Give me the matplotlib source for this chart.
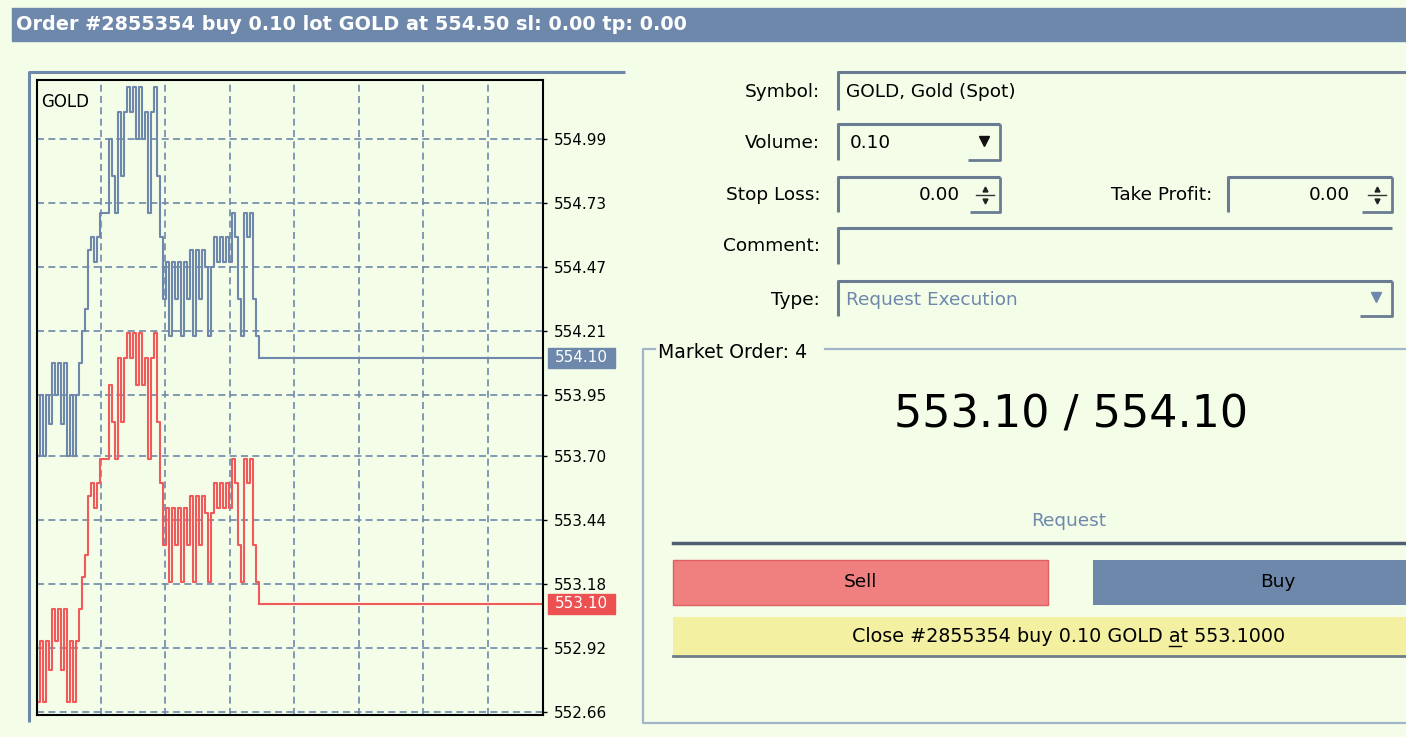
import matplotlib
matplotlib.use("Agg")
import matplotlib.pyplot as plt
from matplotlib.patches import Rectangle
from matplotlib.transforms import blended_transform_factory
import numpy as np

# GOLD ask price, one value per tick (bid = ask - spread)
ask = [553.70, 553.95, 553.70, 553.95, 553.83, 554.08, 553.95, 554.08, 553.83, 554.08,
       553.70, 553.95, 553.70, 553.95, 554.08, 554.21, 554.30, 554.54, 554.59, 554.49,
       554.59, 554.69, 554.69, 554.69, 554.99, 554.84, 554.69, 555.10, 554.84, 555.10,
       555.20, 555.10, 555.20, 554.99, 555.20, 554.99, 555.10, 554.69, 555.10, 555.20,
       554.84, 554.59, 554.34, 554.49, 554.19, 554.49, 554.34, 554.49, 554.19, 554.49,
       554.34, 554.54, 554.19, 554.54, 554.34, 554.54, 554.47, 554.19, 554.47, 554.59,
       554.49, 554.59, 554.49, 554.59, 554.49, 554.69, 554.59, 554.34, 554.19, 554.69,
       554.59, 554.69, 554.34, 554.19, 554.10]
spread = 1.00
bid = [round(a - spread, 2) for a in ask]
price_ticks = [554.99, 554.73, 554.47, 554.21, 553.95, 553.70, 553.44, 553.18, 552.92, 552.66]

order_no = 2855354
symbol = "GOLD"
lots = 0.10
open_price = 554.50
sl, tp = 0.00, 0.00
order_count = 4

W, H = 1406, 737
BG = '#F4FDE8'
BLUE = '#6D88AB'
RED = '#F05A5A'
RED_BOX = '#EC5050'
SELL = '#F08080'
CLOSE_BG = '#F3F0A2'
EDGE = '#6A7B93'
GROUP = '#A3B5CB'
FS = 13.3

fig = plt.figure(figsize=(W / 100, H / 100), dpi=100, facecolor=BG)

# pixel-coordinate layer for the dialog widgets
ui = fig.add_axes([0, 0, 1, 1])
ui.set_xlim(0, W)
ui.set_ylim(H, 0)
ui.axis('off')

# title bar
ui.add_patch(Rectangle((12, 8), W - 12, 33, color=BLUE))
title = f"Order #{order_no} buy {lots:.2f} lot {symbol} at {open_price:.2f} sl: {sl:.2f} tp: {tp:.2f}"
ui.text(16, 24.5, title, color='white', fontweight='bold', fontsize=13.9, va='center')

# ---- tick chart ----
ticks_in_view = 506 / 3
ax = fig.add_axes([37 / W, 1 - 715 / H, 506 / W, 635 / H])
ax.set_facecolor(BG)
x = np.arange(len(ask))
ax.plot(x, ask, drawstyle='steps-post', color=BLUE, lw=1.5)
ax.plot(x, bid, drawstyle='steps-post', color=RED, lw=1.5)
ax.hlines([ask[-1], bid[-1]], len(ask) - 1, ticks_in_view, colors=[BLUE, RED], lw=1.5)
ax.set_xlim(0, ticks_in_view)
ax.set_ylim(552.648, 555.23)
ax.set_xticks(np.arange(21.33, ticks_in_view, 21.5))
ax.tick_params(axis='x', length=0, labelbottom=False)
ax.yaxis.tick_right()
ax.set_yticks(price_ticks)
ax.set_yticklabels([f"{t:.2f}" for t in price_ticks])
ax.tick_params(axis='y', direction='out', length=3, width=1, pad=5, labelsize=11, colors='black')
ax.grid(True, color=BLUE, ls=(0, (4.2, 2.6)), lw=1.2)
for s in ax.spines.values():
    s.set_color('black')
    s.set_linewidth(1.5)
ax.text(0.008, 0.98, symbol, transform=ax.transAxes, fontsize=12, va='top', ha='left')

# current price boxes on the price scale
tr = blended_transform_factory(ax.transAxes, ax.transData)
half_h = 10 / (635 / (555.23 - 552.648))
for price, col in [(ask[-1], BLUE), (bid[-1], RED_BOX)]:
    ax.add_patch(Rectangle((1.01, price - half_h), 67 / 506, 2 * half_h, transform=tr,
                           color=col, clip_on=False))
    ax.text(1.01 + 33.5 / 506, price, f"{price:.2f}", transform=tr, color='white',
            fontsize=11, ha='center', va='center', clip_on=False)

# outer sunken frame of the chart
ui.plot([29, 29, 625], [722, 72, 72], color=BLUE, lw=2.2, solid_capstyle='butt')

# ---- order form ----
def field(x0, y0, x1, y1):
    ui.plot([x0, x0, x1], [y1, y0, y0], color=EDGE, lw=2.2, solid_capstyle='butt')

def button_edge(xb, x1, y0, y1):
    ui.plot([xb, x1, x1], [y1, y1, y0], color=EDGE, lw=2, solid_capstyle='butt')

def spinner(xc, y0, y1, x1):
    button_edge(xc - 15, x1, y0, y1)
    ym = (y0 + y1) / 2
    ui.plot([xc - 9, xc + 9], [ym, ym], color='#333333', lw=1)
    ui.plot([xc], [ym - 6], marker='^', color='#222222', ms=3.5)
    ui.plot([xc], [ym + 6], marker='v', color='#222222', ms=3.5)

labels = [("Symbol:", 92), ("Volume:", 143), ("Stop Loss:", 195), ("Comment:", 246), ("Type:", 300)]
for lab, yy in labels:
    ui.text(820, yy, lab, ha='right', va='center', fontsize=FS)

field(838, 72, W, 110)
ui.text(846, 92, f"{symbol}, Gold (Spot)", va='center', fontsize=FS)

field(838, 124, 1000, 160)
button_edge(968, 1000, 124, 160)
ui.plot([984], [141], marker='v', color='#111111', ms=7)
ui.text(850, 143, f"{lots:.2f}", va='center', fontsize=FS)

field(838, 177, 1000, 212)
spinner(985, 177, 212, 1000)
ui.text(960, 195, f"{sl:.2f}", ha='right', va='center', fontsize=FS)

ui.text(1212, 195, "Take Profit:", ha='right', va='center', fontsize=FS)
field(1228, 177, 1392, 212)
spinner(1377, 177, 212, 1392)
ui.text(1350, 195, f"{tp:.2f}", ha='right', va='center', fontsize=FS)

field(838, 228, 1392, 264)

field(838, 281, 1392, 316)
button_edge(1360, 1392, 281, 316)
ui.plot([1376], [297], marker='v', color=BLUE, ms=7)
ui.text(846, 300, "Request Execution", va='center', fontsize=FS, color=BLUE)

# market order group
ui.plot([655, 643, 643, W], [349, 349, 723, 723], color=GROUP, lw=1.6)
ui.plot([825, W], [349, 349], color=GROUP, lw=1.6)
ui.text(658, 352, f"Market Order: {order_count}", va='center', fontsize=13.6)
ui.text(1071, 415, f"{bid[-1]:.2f} / {ask[-1]:.2f}", ha='center', va='center', fontsize=32)
ui.text(1069, 521, "Request", ha='center', va='center', fontsize=FS, color=BLUE)
ui.plot([673, W], [543, 543], color='#4F5E73', lw=2.5)

ui.add_patch(Rectangle((673, 560), 375, 45, fc=SELL, ec='#E06060', lw=1))
ui.text(860, 582, "Sell", ha='center', va='center', fontsize=FS)
ui.add_patch(Rectangle((1093, 560), W - 1093, 45, fc=BLUE, lw=0))
ui.text(1278, 582, "Buy", ha='center', va='center', fontsize=FS)

ui.add_patch(Rectangle((673, 617), W - 673, 38, fc=CLOSE_BG, lw=0))
ui.plot([673, W], [656, 656], color='#6E7C86', lw=2)
close_label = f"Close #{order_no} buy {lots:.2f} {symbol} at {bid[-1]:.4f}"
ct = ui.text(1069, 636, close_label, ha='center', va='center', fontsize=13.8)

# underline the hotkey letter "a" of "at"
fig.canvas.draw()
rend = fig.canvas.get_renderer()
x_left = ct.get_window_extent(rend).x0
k = close_label.index(" at ") + 1
probe = ui.text(0, 0, close_label[:k + 1], fontsize=13.8)
w_pre = probe.get_window_extent(rend).width
probe.set_text("a")
w_a = probe.get_window_extent(rend).width
probe.remove()
ui.plot([x_left + w_pre - w_a, x_left + w_pre], [646, 646], color='black', lw=1)

fig.savefig("out.png", dpi=100, facecolor=BG)
